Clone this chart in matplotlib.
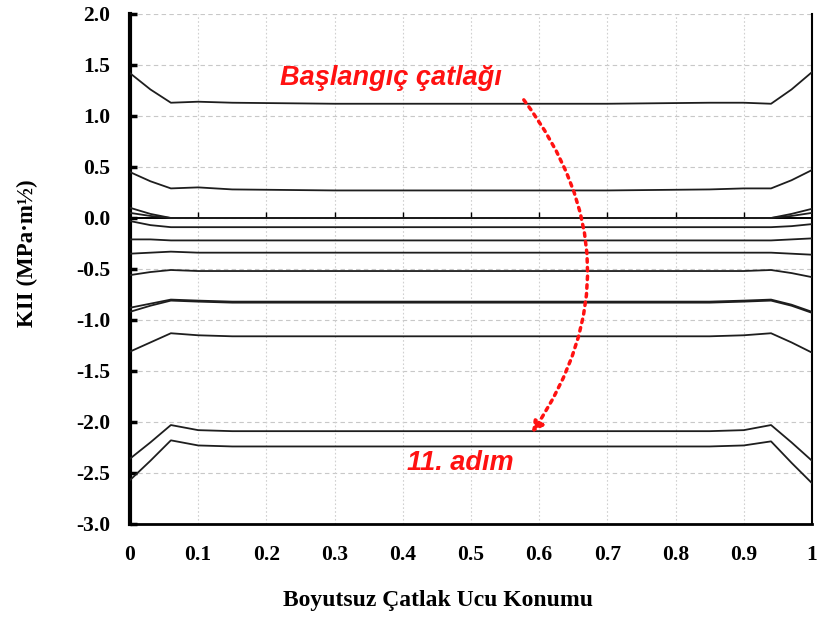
import matplotlib
matplotlib.use("Agg")
import matplotlib.pyplot as plt
from matplotlib.patches import FancyArrowPatch

# konum noktalari (boyutsuz catlak ucu konumu)
x_pos = [0.0, 0.03, 0.06, 0.10, 0.15, 0.30, 0.50, 0.70, 0.85, 0.90, 0.94, 0.97, 1.0]

# KII egrileri, okunan degerler
k_curves = [
    [1.42, 1.26, 1.13, 1.14, 1.13, 1.12, 1.12, 1.12, 1.13, 1.13, 1.12, 1.26, 1.43],
    [0.45, 0.36, 0.29, 0.30, 0.28, 0.27, 0.27, 0.27, 0.28, 0.29, 0.29, 0.37, 0.47],
    [0.10, 0.04, 0.00, 0.00, 0.00, 0.00, 0.00, 0.00, 0.00, 0.00, 0.00, 0.04, 0.09],
    [0.05, 0.02, 0.00, 0.00, 0.00, 0.00, 0.00, 0.00, 0.00, 0.00, 0.00, 0.02, 0.05],
    [-0.03, -0.07, -0.09, -0.09, -0.09, -0.09, -0.09, -0.09, -0.09, -0.09, -0.09, -0.08, -0.06],
    [-0.21, -0.21, -0.22, -0.22, -0.22, -0.22, -0.22, -0.22, -0.22, -0.22, -0.22, -0.21, -0.20],
    [-0.35, -0.34, -0.33, -0.34, -0.34, -0.34, -0.34, -0.34, -0.34, -0.34, -0.34, -0.35, -0.36],
    [-0.56, -0.53, -0.51, -0.52, -0.52, -0.52, -0.52, -0.52, -0.52, -0.52, -0.51, -0.54, -0.58],
    [-0.88, -0.84, -0.80, -0.81, -0.82, -0.82, -0.82, -0.82, -0.82, -0.81, -0.80, -0.85, -0.92],
    [-0.92, -0.86, -0.81, -0.82, -0.83, -0.83, -0.83, -0.83, -0.83, -0.82, -0.81, -0.86, -0.93],
    [-1.31, -1.22, -1.13, -1.15, -1.16, -1.16, -1.16, -1.16, -1.16, -1.15, -1.13, -1.22, -1.32],
    [-2.36, -2.20, -2.03, -2.08, -2.09, -2.09, -2.09, -2.09, -2.09, -2.08, -2.03, -2.20, -2.38],
    [-2.57, -2.38, -2.18, -2.23, -2.24, -2.24, -2.24, -2.24, -2.24, -2.23, -2.19, -2.40, -2.60],
]

x_ticks = [0.0, 0.1, 0.2, 0.3, 0.4, 0.5, 0.6, 0.7, 0.8, 0.9, 1.0]
x_tick_labels = ["0", "0.1", "0.2", "0.3", "0.4", "0.5", "0.6", "0.7", "0.8", "0.9", "1"]
y_ticks = [2.0, 1.5, 1.0, 0.5, 0.0, -0.5, -1.0, -1.5, -2.0, -2.5, -3.0]

serif = "Liberation Serif"
sans = "Liberation Sans"

fig = plt.figure(figsize=(8.21, 6.19), dpi=100)
ax = fig.add_axes([0.1583, 0.1535, 0.8307, 0.8239])

# izgara
for yv in y_ticks:
    ax.axhline(yv, color="#c8c8c8", lw=0.8, ls=(0, (4, 3)), zorder=0)
for xv in x_ticks[1:-1]:
    ax.axvline(xv, color="#d0d0d0", lw=0.8, ls=(0, (1.5, 2)), zorder=0)

# yatay eksen cizgisi (y=0) ve kucuk tikler
ax.axhline(0.0, color="black", lw=1.4, zorder=2)
ax.vlines(x_ticks[1:-1], 0.0, 0.06, color="black", lw=1.0, zorder=2)

for vals in k_curves:
    ax.plot(x_pos, vals, color="#1e1e1e", lw=1.3, zorder=3)

ax.set_xlim(0, 1)
ax.set_ylim(-3.0, 2.0)
ax.set_xticks(x_ticks)
ax.set_xticklabels(x_tick_labels)
ax.set_yticks(y_ticks)
ax.set_yticklabels([f"{v:.1f}" for v in y_ticks])

for lab in ax.get_xticklabels() + ax.get_yticklabels():
    lab.set_fontfamily(serif)
    lab.set_fontweight("bold")
    lab.set_fontsize(15.5)

ax.tick_params(axis="x", length=0, pad=15)
ax.tick_params(axis="y", direction="in", length=5, width=2.5, pad=14)

ax.spines["top"].set_visible(False)
ax.spines["left"].set_linewidth(3)
ax.spines["bottom"].set_linewidth(2)
ax.spines["right"].set_linewidth(1.5)

ax.set_xlabel("Boyutsuz Çatlak Ucu Konumu", fontfamily=serif, fontweight="bold",
              fontsize=17)
ax.xaxis.set_label_coords(0.452, -0.129)
ax.set_ylabel("KII (MPa·m½)", fontfamily=serif, fontweight="bold", fontsize=16.5)
ax.yaxis.set_label_coords(-0.135, 0.531)

# aciklamalar
ax.text(0.22, 1.37, "Başlangıç çatlağı", color="#ff1111", fontfamily=sans,
        fontweight="bold", fontstyle="italic", fontsize=19.5, va="center", ha="left")
ax.text(0.406, -2.40, "11. adım", color="#ff1111", fontfamily=sans,
        fontweight="bold", fontstyle="italic", fontsize=19.5, va="center", ha="left")

arrow = FancyArrowPatch((0.575, 1.18), (0.587, -2.13),
                        connectionstyle="arc3,rad=-0.36", arrowstyle="-|>",
                        mutation_scale=16, color="#ff1111", lw=2.5,
                        linestyle=(0, (1, 1.5)), zorder=5)
ax.add_patch(arrow)

fig.savefig("out.png", dpi=100)
